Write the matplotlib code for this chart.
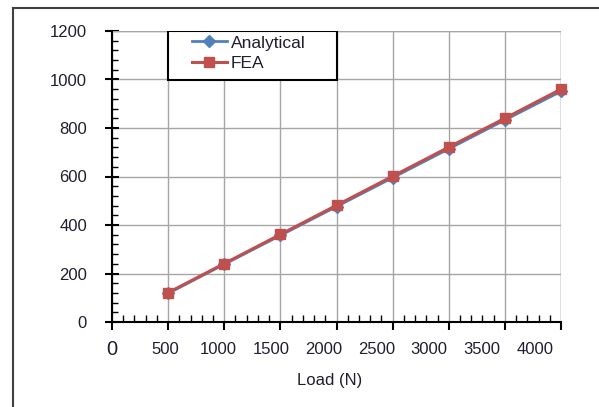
import numpy as np
import matplotlib
matplotlib.use('Agg')
import matplotlib.pyplot as plt
from matplotlib.lines import Line2D
from matplotlib.patches import Rectangle
from matplotlib.ticker import MultipleLocator
import matplotlib.transforms as mtransforms

plt.rcParams['font.family'] = ['Liberation Sans', 'DejaVu Sans']

# data
load = [500, 1000, 1500, 2000, 2500, 3000, 3500, 4000]
analytical = [118, 238, 357, 476, 595, 714, 833, 951]
fea = [121, 241, 361, 481, 601, 721, 840, 960]
x_tick_labels = ['0', '500', '1000', '1500', '2000', '2500', '3000', '3500', '4000']

blue = '#4F81BD'
red = '#C0504D'
txt = '#1f1f2f'

fig = plt.figure(figsize=(5.99, 4.07), dpi=100)
ax = fig.add_axes([112 / 599, 85 / 407, 449 / 599, 291 / 407])

ax.plot(load, analytical, color=blue, lw=2, marker='D', ms=6, label='Analytical',
        clip_on=False, zorder=3)
ax.plot(load, fea, color=red, lw=2.2, marker='s', ms=7, label='FEA',
        clip_on=False, zorder=4)

ax.set_xlim(0, 4000)
ax.set_ylim(0, 1200)

# grid and spines
ax.grid(True, which='major', color='#a6a6a6', lw=1)
for s in ['top', 'right']:
    ax.spines[s].set_visible(False)
for s in ['left', 'bottom']:
    ax.spines[s].set_color('black')
    ax.spines[s].set_linewidth(1.5)
    ax.spines[s].set_zorder(5)
ax.set_axisbelow(True)

# top/right grid edges
ax.axhline(1200, color='#a6a6a6', lw=1, zorder=1)
ax.axvline(4000, color='#a6a6a6', lw=1, zorder=1)

ax.xaxis.set_major_locator(MultipleLocator(500))
ax.xaxis.set_minor_locator(MultipleLocator(100))
ax.yaxis.set_major_locator(MultipleLocator(200))
ax.yaxis.set_minor_locator(MultipleLocator(40))

ax.tick_params(axis='x', which='major', direction='out', length=6, width=1.5,
               color='black', labelbottom=False)
ax.tick_params(axis='x', which='minor', direction='in', length=5, width=1, color='black')
ax.tick_params(axis='y', which='major', direction='inout', length=10, width=1.5,
               color='black', labelsize=12, labelcolor=txt, pad=13)
ax.tick_params(axis='y', which='minor', direction='in', length=4, width=1, color='black')

# x tick labels (drawn slightly compressed as in the reference)
trans = mtransforms.blended_transform_factory(ax.transData, ax.transAxes)
vals = [0, 500, 1000, 1500, 2000, 2500, 3000, 3500, 4000]
for v, lab in zip(vals, x_tick_labels):
    if v == 0:
        ax.text(0, -0.095, lab, transform=trans, ha='center', va='center',
                fontsize=14.5, color=txt)
    else:
        pos = 473 + (v - 500) * 0.9414
        ax.text(pos, -0.095, lab, transform=trans, ha='center', va='center',
                fontsize=12, color=txt)

ax.text((330 - 112) / 449, -0.2, 'Load (N)', transform=ax.transAxes, ha='center',
        va='center', fontsize=12, color=txt)

# legend with a box snapped to the grid cell
ax.add_patch(Rectangle((500 / 4000, 1000 / 1200), 1500 / 4000, 200 / 1200,
                       transform=ax.transAxes, fill=True, facecolor='white',
                       edgecolor='black', lw=1.5, zorder=6))
leg = ax.legend(loc='upper left', bbox_to_anchor=((192 - 112) / 449, 0.985),
                frameon=False, fontsize=12.5, handlelength=2.0, handletextpad=0.25,
                borderpad=0, borderaxespad=0, labelspacing=0.3)
leg.set_zorder(7)
for t in leg.get_texts():
    t.set_color(txt)

# outer chart frame
fig.add_artist(Line2D([13 / 599, 13 / 599], [0, 1 - 8 / 407], color='#404040', lw=1.5))
fig.add_artist(Line2D([13 / 599, 1], [1 - 8 / 407, 1 - 8 / 407], color='#404040', lw=1.5))

fig.savefig('out.png', dpi=100)
